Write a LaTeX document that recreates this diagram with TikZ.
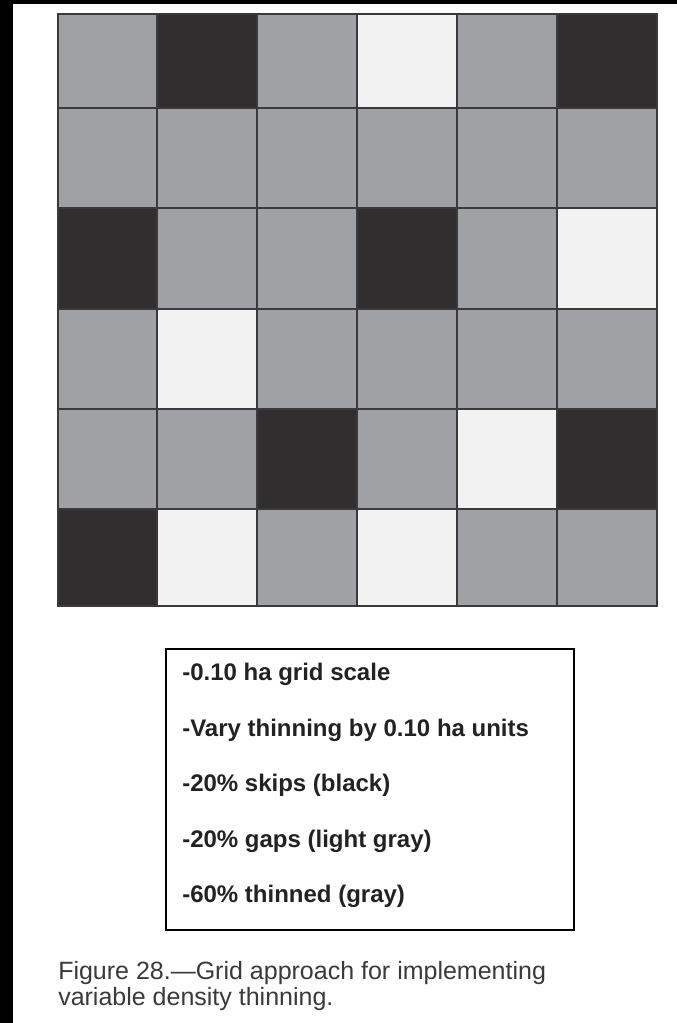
\documentclass[tikz,border=0pt]{standalone}
\usepackage{fontspec}
\setmainfont{Liberation Sans}
\usetikzlibrary{positioning}
\definecolor{cell-g}{HTML}{A0A1A5}
\definecolor{cell-d}{HTML}{302E2F}
\definecolor{cell-l}{HTML}{F2F2F2}
\definecolor{grid-line}{HTML}{3A3A3A}
\definecolor{text-dark}{HTML}{222222}
\definecolor{caption-gray}{HTML}{3A3A3A}
\tikzset{
  cell/.style={draw=grid-line, line width=1.5pt},
  legend-box/.style={draw=black, line width=1.1pt},
  legend-text/.style={anchor=base west, inner sep=0pt, text=text-dark,
    font=\fontsize{18}{20}\selectfont\bfseries},
  caption-text/.style={anchor=base west, inner sep=0pt, text=caption-gray,
    font=\fontsize{18.75}{22}\selectfont}
}

\begin{document}
\begin{tikzpicture}[x=0.75pt, y=-0.75pt]
  \useasboundingbox (0,0) rectangle (677,1023);
  \fill[white] (0,0) rectangle (677,1023);

  % scan frame (left and top)
  \fill[black] (0,0) rectangle (13,1023);
  \fill[black] (0,0) rectangle (677,4);

  % 6x6 grid: g = thinned, d = skip, l = gap
  \foreach \ytop/\ybot/\row in {
      14/108.3/{g,d,g,l,g,d},
      108.3/208.3/{g,g,g,g,g,g},
      208.3/309/{d,g,g,d,g,l},
      309/408.5/{g,l,g,g,g,g},
      408.5/509/{g,g,d,g,l,d},
      509/605.5/{d,l,g,l,g,g}} {
    \foreach \c [count=\i] in \row {
      \pgfmathsetmacro{\xl}{57.5+99.9*(\i-1)}
      \pgfmathsetmacro{\xr}{57.5+99.9*\i}
      \filldraw[cell, fill=cell-\c] (\xl,\ytop) rectangle (\xr,\ybot);
    }
  }

  % legend
  \draw[legend-box] (166,649) rectangle (574,930);
  \node[legend-text] (leg-scale) at (182,680.5) {-0.10 ha grid scale};
  \node[legend-text] (leg-vary)  at (182,736)   {-Vary thinning by 0.10 ha units};
  \node[legend-text] (leg-skips) at (182,791.5) {-20\% skips (black)};
  \node[legend-text] (leg-gaps)  at (182,847)   {-20\% gaps (light gray)};
  \node[legend-text] (leg-thin)  at (182,902.5) {-60\% thinned (gray)};

  % caption
  \node[caption-text] (cap-1) at (58,979)  {Figure 28.—Grid approach for implementing};
  \node[caption-text] (cap-2) at (58,1005) {variable density thinning.};
\end{tikzpicture}
\end{document}
